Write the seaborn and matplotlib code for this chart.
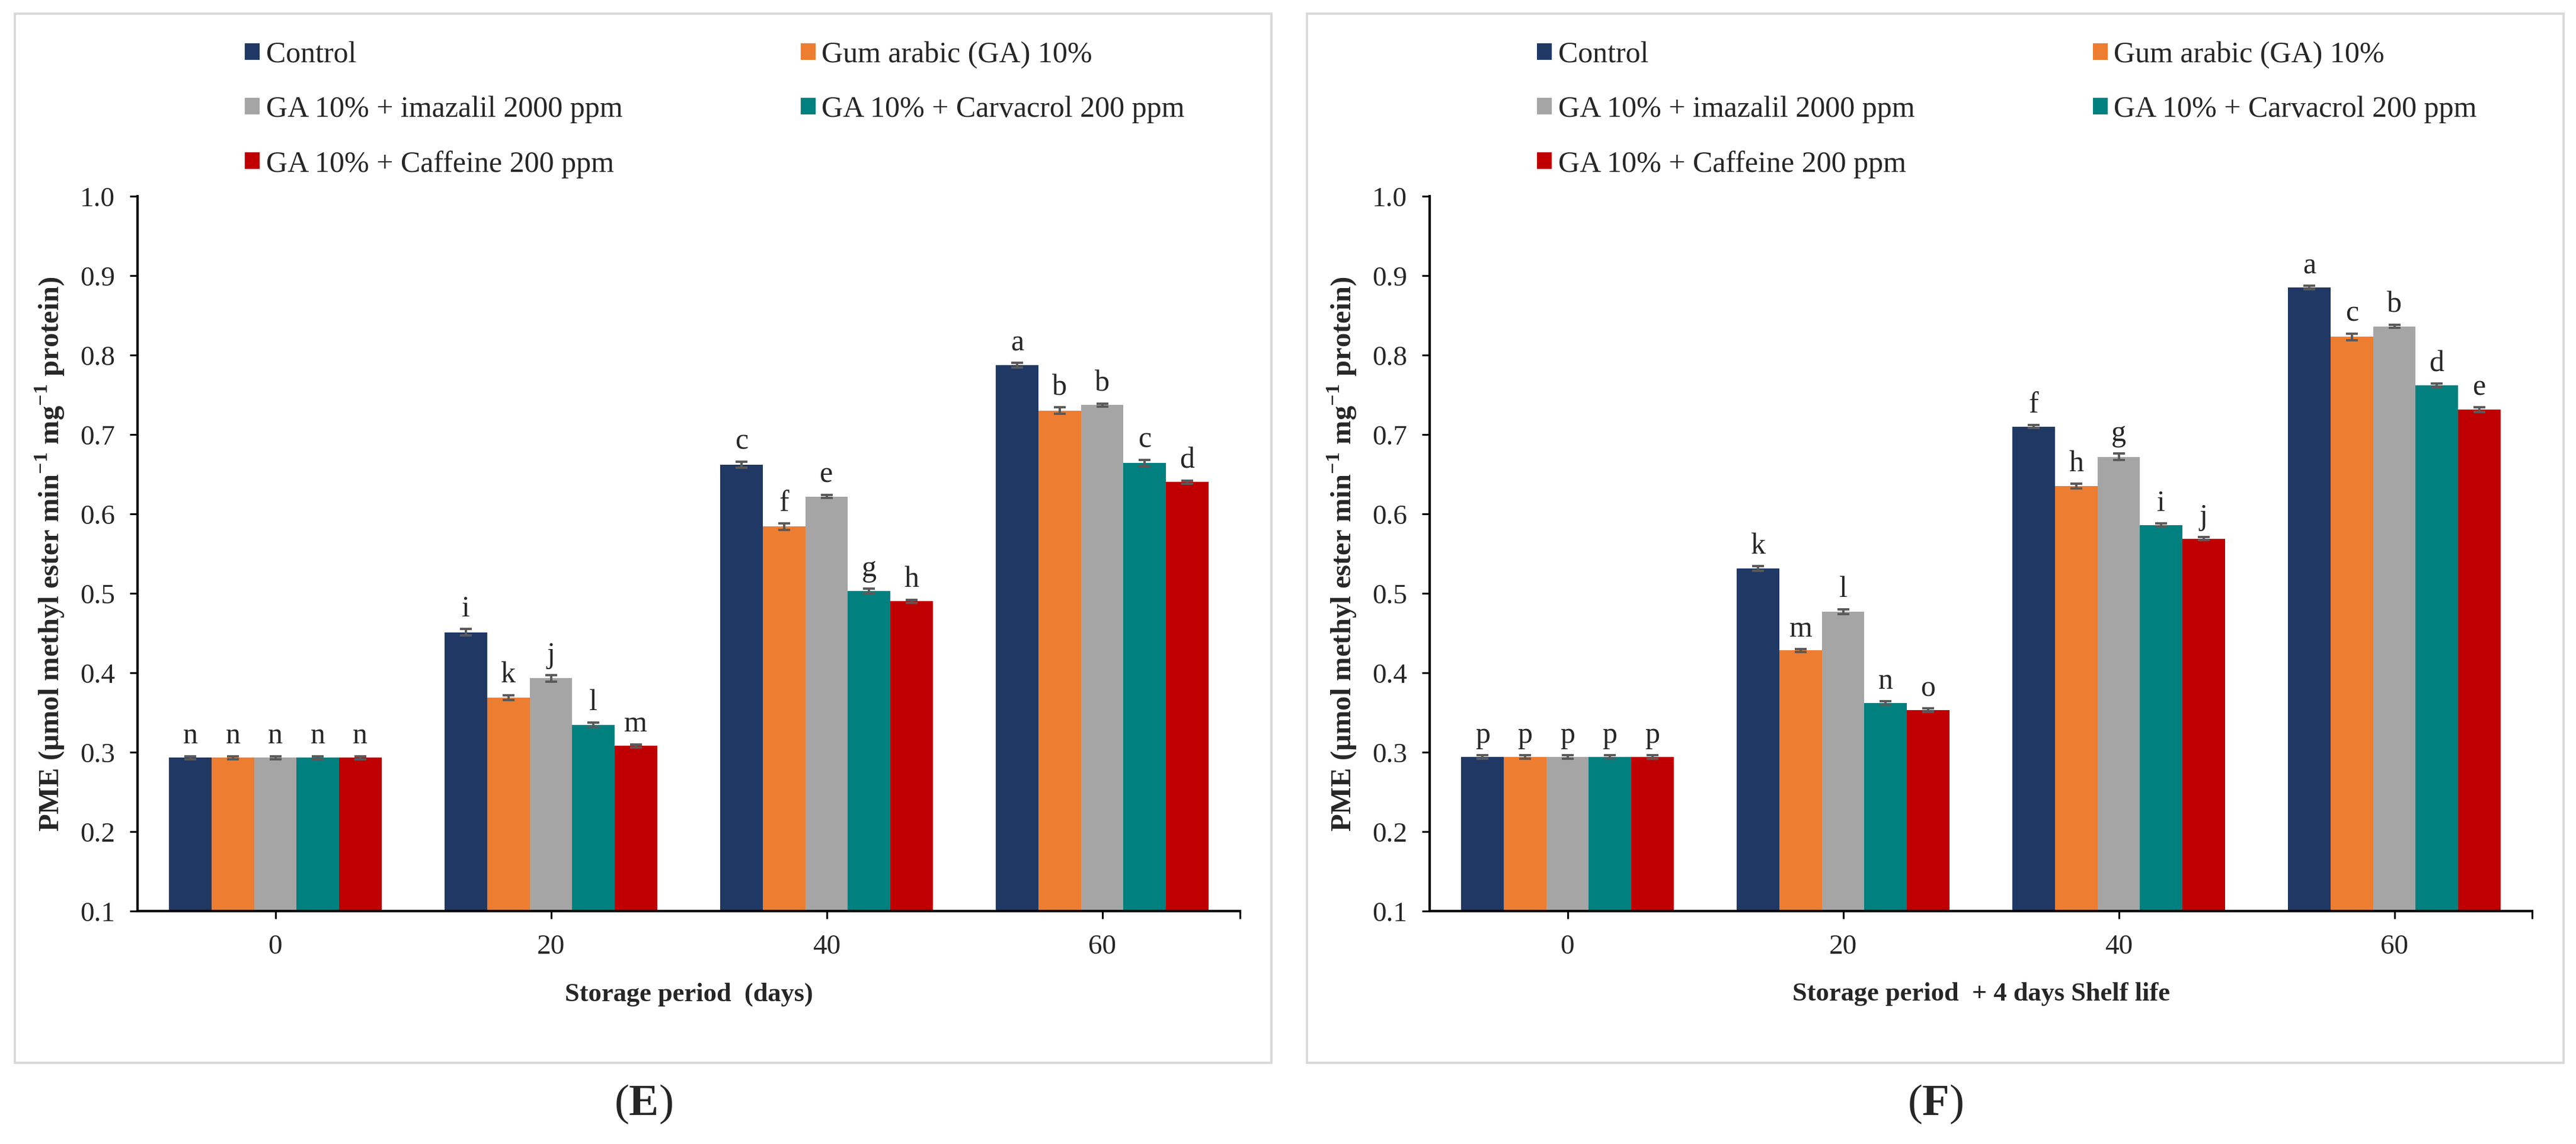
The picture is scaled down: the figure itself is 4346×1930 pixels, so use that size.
"""
PME activity bar charts, panels (E) storage and (F) storage + shelf life.
"""

import numpy as np
import pandas as pd
import matplotlib
matplotlib.use("Agg")
import matplotlib.pyplot as plt
from matplotlib.patches import Patch, Rectangle
import seaborn as sns

# ---- data -------------------------------------------------------------
days = ["0", "20", "40", "60"]
treatments = [
    "Control",
    "Gum arabic (GA) 10%",
    "GA 10% + imazalil 2000 ppm",
    "GA 10% + Carvacrol 200 ppm",
    "GA 10% + Caffeine 200 ppm",
]
colors = ["#203864", "#ED7D31", "#A5A5A5", "#00807F", "#C00000"]

# panel E: storage period (days); rows = treatments, cols = days
pme_storage = [
    [0.293, 0.451, 0.662, 0.787],
    [0.293, 0.369, 0.584, 0.730],
    [0.293, 0.393, 0.622, 0.737],
    [0.293, 0.334, 0.503, 0.664],
    [0.293, 0.308, 0.490, 0.640],
]
err_storage = [
    [0.002, 0.004, 0.004, 0.003],
    [0.002, 0.003, 0.004, 0.004],
    [0.002, 0.004, 0.002, 0.002],
    [0.002, 0.003, 0.003, 0.004],
    [0.002, 0.002, 0.002, 0.002],
]
letters_storage = [
    ["n", "i", "c", "a"],
    ["n", "k", "f", "b"],
    ["n", "j", "e", "b"],
    ["n", "l", "g", "c"],
    ["n", "m", "h", "d"],
]

# panel F: storage period + 4 days shelf life
pme_shelf = [
    [0.294, 0.531, 0.710, 0.885],
    [0.294, 0.428, 0.635, 0.823],
    [0.294, 0.477, 0.672, 0.836],
    [0.294, 0.362, 0.586, 0.762],
    [0.294, 0.353, 0.569, 0.731],
]
err_shelf = [
    [0.002, 0.003, 0.002, 0.002],
    [0.002, 0.002, 0.003, 0.004],
    [0.002, 0.003, 0.004, 0.002],
    [0.002, 0.002, 0.002, 0.002],
    [0.002, 0.002, 0.002, 0.003],
]
letters_shelf = [
    ["p", "k", "f", "a"],
    ["p", "m", "h", "c"],
    ["p", "l", "g", "b"],
    ["p", "n", "i", "d"],
    ["p", "o", "j", "e"],
]

y_ticks = [0.1, 0.2, 0.3, 0.4, 0.5, 0.6, 0.7, 0.8, 0.9, 1.0]
ylabel = r"PME (µmol methyl ester min$^{\mathbf{-1}}$ mg$^{\mathbf{-1}}$ protein)"

# ---- style ------------------------------------------------------------
sns.set_theme(style="white")
plt.rcParams["font.family"] = ["Liberation Serif", "DejaVu Serif"]
plt.rcParams["mathtext.fontset"] = "custom"
plt.rcParams["mathtext.rm"] = "Liberation Serif"
plt.rcParams["mathtext.bf"] = "Liberation Serif:bold"

W, H = 4346, 1931
DPI = 200
fig = plt.figure(figsize=(W / DPI, H / DPI), dpi=DPI)
fig.patch.set_facecolor("white")


def px(x, y):
    """pixel position (from top-left) -> figure fraction"""
    return x / W, 1 - y / H


def draw_panel(x0, values, errors, letters, xlabel, tag):
    # panel frame
    fig.patches.append(Rectangle(px(x0 - 207, 1794), 2120 / W, 1770 / H,
                                 transform=fig.transFigure, fill=False,
                                 edgecolor="#d9d9d9", linewidth=1.4))

    left, bottom = px(x0, 1538)
    ax = fig.add_axes([left, bottom, 1860 / W, 1206 / H])

    df = pd.DataFrame({
        "day": np.tile(days, len(treatments)),
        "treatment": np.repeat(treatments, len(days)),
        "value": np.ravel(values),
    })
    sns.barplot(data=df, x="day", y="value", hue="treatment", order=days,
                hue_order=treatments, palette=colors, width=0.77,
                errorbar=None, saturation=1, linewidth=0, legend=False, ax=ax)

    bar_groups = list(ax.containers)
    for j, cont in enumerate(bar_groups):
        xs = [b.get_x() + b.get_width() / 2 for b in cont]
        ax.errorbar(xs, values[j], yerr=errors[j], fmt="none",
                    ecolor="#595959", elinewidth=1.4, capsize=3.6,
                    capthick=1.4, zorder=3)
        for x, v, e, t in zip(xs, values[j], errors[j], letters[j]):
            ax.annotate(t, (x, v + e), xytext=(0, 8),
                        textcoords="offset points", ha="center",
                        va="baseline", fontsize=18)

    ax.set_xlim(-0.5, 3.5)
    ax.set_ylim(0.1, 1.0)
    ax.set_yticks(y_ticks)
    ax.set_yticklabels([f"{t:.1f}" for t in y_ticks])
    ax.set_xticks([3.5], minor=True)
    sns.despine(ax=ax)
    for s in ("left", "bottom"):
        ax.spines[s].set_linewidth(1.5)
        ax.spines[s].set_color("black")
    ax.tick_params(axis="both", which="both", direction="out", length=4.7,
                   width=1.1, color="black", labelsize=17, pad=9,
                   bottom=True, left=True)

    ax.set_xlabel(xlabel, fontsize=16, fontweight="bold", labelpad=14)
    ax.set_ylabel(ylabel, fontsize=17.5, fontweight="bold")
    ax.yaxis.set_label_coords(-0.0645, 0.5)

    handles = [Patch(facecolor=c, edgecolor="none") for c in colors]
    order = [0, 2, 4, 1, 3]
    ax.legend([handles[i] for i in order], [treatments[i] for i in order],
              ncol=2, loc="upper left", bbox_to_anchor=px(x0 + 181, 70),
              bbox_transform=fig.transFigure, frameon=False, fontsize=18,
              handlelength=0.5, handleheight=0.5, handletextpad=0.22,
              labelspacing=0.91, columnspacing=6.0, borderpad=0,
              borderaxespad=0)

    cx, cy = px(x0 + 853, 1863)
    fig.text(cx, cy, "(" + r"$\mathbf{" + tag + "}$" + ")", fontsize=27,
             ha="center", va="center")
    return ax


draw_panel(232, pme_storage, err_storage, letters_storage,
           "Storage period  (days)", "E")
draw_panel(2412, pme_shelf, err_shelf, letters_shelf,
           "Storage period  + 4 days Shelf life", "F")

fig.savefig("out.png", dpi=DPI, facecolor="white")
